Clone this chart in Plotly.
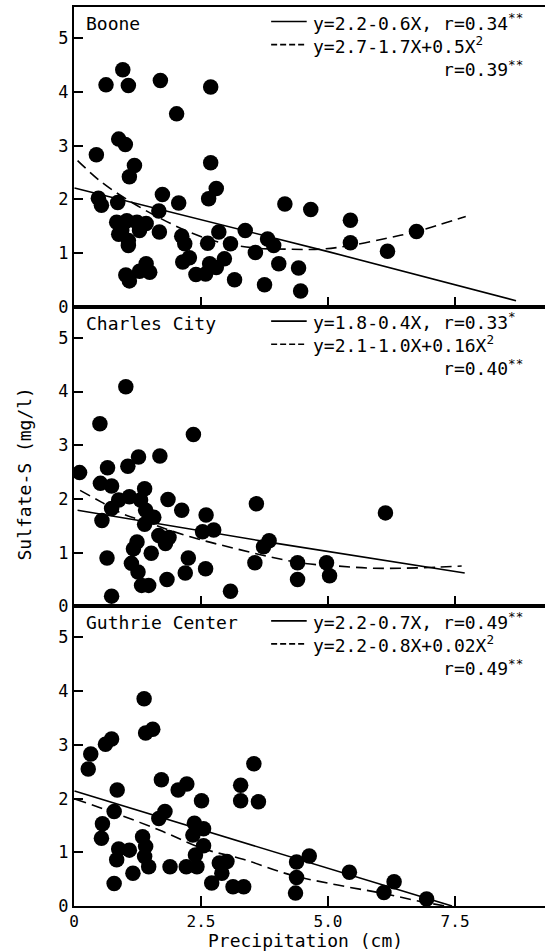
import plotly.graph_objects as go

# ---------------- data ----------------
panel_names = ["Boone", "Charles City", "Guthrie Center"]

boone_x = [0.63, 0.96, 1.07, 1.70, 2.69, 2.02, 0.44, 0.88, 1.01, 1.19, 1.09, 2.69, 2.80, 2.65,
           0.48, 0.54, 0.86, 1.74, 2.06, 1.67, 4.15, 4.66, 5.44, 5.44, 6.17, 6.74,
           0.84, 1.04, 1.24, 1.42, 0.88, 1.07, 1.29, 1.07, 1.68, 0.94,
           2.12, 2.18, 2.63, 2.85, 3.08, 3.37, 3.57, 3.81, 3.93, 4.03, 4.42, 4.46, 3.75,
           3.16, 2.96, 2.80, 2.67, 2.59, 2.40, 2.14, 2.27, 1.02, 1.09, 1.29, 1.42, 1.49]
boone_y = [4.13, 4.41, 4.12, 4.21, 4.09, 3.59, 2.83, 3.12, 3.02, 2.63, 2.42, 2.68, 2.20, 2.01,
           2.02, 1.89, 1.94, 2.09, 1.93, 1.78, 1.91, 1.81, 1.61, 1.19, 1.03, 1.40,
           1.57, 1.60, 1.57, 1.55, 1.35, 1.23, 1.42, 1.14, 1.39, 1.42,
           1.31, 1.17, 1.18, 1.39, 1.17, 1.42, 1.01, 1.26, 1.14, 0.80, 0.72, 0.29, 0.41,
           0.50, 0.89, 0.73, 0.80, 0.61, 0.60, 0.83, 0.91, 0.59, 0.48, 0.66, 0.80, 0.64]

charles_x = [1.02, 0.51, 2.35, 1.69, 1.27, 1.06, 0.66, 0.11, 0.52, 0.74, 1.39, 1.09, 0.88, 1.31,
             1.85, 2.12, 2.60, 3.59, 6.13, 0.55, 0.74, 1.41, 1.57, 1.39, 1.67, 1.87, 1.80,
             2.53, 2.75, 1.24, 1.17, 1.52, 0.65, 1.13, 1.26, 1.33, 1.47, 1.83, 2.19, 2.25,
             2.59, 3.08, 0.74, 3.56, 3.73, 3.84, 4.40, 4.40, 4.97, 5.03]
charles_y = [4.09, 3.40, 3.20, 2.80, 2.78, 2.61, 2.58, 2.49, 2.29, 2.24, 2.19, 2.04, 1.98, 1.98,
             1.99, 1.79, 1.70, 1.91, 1.74, 1.60, 1.82, 1.79, 1.66, 1.53, 1.32, 1.28, 1.17,
             1.39, 1.42, 1.20, 1.07, 0.99, 0.90, 0.80, 0.64, 0.39, 0.39, 0.50, 0.62, 0.90,
             0.70, 0.28, 0.19, 0.81, 1.11, 1.22, 0.81, 0.50, 0.81, 0.57]

guthrie_x = [1.38, 1.41, 1.55, 0.74, 0.62, 0.33, 0.28, 3.54, 1.72, 2.22, 2.05, 0.85, 2.51, 3.28,
             3.28, 3.63, 0.79, 1.79, 1.67, 0.56, 0.54, 2.37, 2.55, 2.34, 2.55, 1.35, 1.41,
             0.88, 1.09, 0.84, 1.39, 1.47, 1.16, 0.79, 1.89, 2.21, 2.42, 2.39, 2.86, 3.01,
             2.91, 2.71, 3.13, 3.34, 4.38, 4.63, 4.38, 4.36, 5.42, 6.30, 6.10, 6.94]
guthrie_y = [3.86, 3.22, 3.29, 3.11, 3.01, 2.83, 2.55, 2.65, 2.35, 2.27, 2.16, 2.16, 1.96, 2.25,
             1.96, 1.94, 1.76, 1.76, 1.63, 1.53, 1.26, 1.54, 1.44, 1.32, 1.12, 1.29, 1.11,
             1.06, 1.04, 0.86, 0.92, 0.73, 0.61, 0.42, 0.73, 0.73, 0.73, 0.95, 0.80, 0.83,
             0.61, 0.43, 0.36, 0.36, 0.82, 0.93, 0.53, 0.24, 0.63, 0.45, 0.25, 0.13]

# fitted curves
boone_lin_x = [0.01, 5.02, 8.70]
boone_lin_y = [2.21, 1.02, 0.11]
boone_quad_x = [0.07, 0.54, 1.07, 1.67, 2.27, 2.86, 3.59, 4.26, 4.85, 5.45, 6.18, 6.74, 7.71]
boone_quad_y = [2.72, 2.32, 1.98, 1.66, 1.39, 1.20, 1.09, 1.07, 1.07, 1.14, 1.28, 1.40, 1.68]

charles_lin_x = [0.07, 3.80, 7.69]
charles_lin_y = [1.79, 1.20, 0.62]
charles_quad_x = [0.12, 0.54, 0.94, 1.34, 1.87, 2.53, 3.20, 3.86, 4.52, 5.19, 5.85, 6.51, 7.18, 7.63]
charles_quad_y = [2.16, 1.94, 1.73, 1.60, 1.42, 1.23, 1.07, 0.92, 0.80, 0.75, 0.71, 0.71, 0.73, 0.75]

guthrie_lin_x = [0.01, 3.33, 7.44]
guthrie_lin_y = [2.14, 1.19, 0.0]
guthrie_quad_x = [0.03, 0.81, 1.74, 2.53, 3.33, 4.26, 5.19, 6.05, 6.84, 7.31]
guthrie_quad_y = [1.99, 1.73, 1.39, 1.07, 0.87, 0.58, 0.39, 0.24, 0.08, 0.0]

eq_lin = ["y=2.2-0.6X, r=0.34<sup>**</sup>",
          "y=1.8-0.4X, r=0.33<sup>*</sup>",
          "y=2.2-0.7X, r=0.49<sup>**</sup>"]
eq_quad = ["y=2.7-1.7X+0.5X<sup>2</sup>",
           "y=2.1-1.0X+0.16X<sup>2</sup>",
           "y=2.2-0.8X+0.02X<sup>2</sup>"]
eq_r = ["r=0.39<sup>**</sup>", "r=0.40<sup>**</sup>", "r=0.49<sup>**</sup>"]

x_ticks = [0, 2.5, 5.0, 7.5]
x_ticktext = ["0", "2.5", "5.0", "7.5"]
y_ticks = [0, 1, 2, 3, 4, 5]

# ---------------- figure ----------------
FONT = "DejaVu Sans Mono"
pts = [(boone_x, boone_y), (charles_x, charles_y), (guthrie_x, guthrie_y)]
lins = [(boone_lin_x, boone_lin_y), (charles_lin_x, charles_lin_y), (guthrie_lin_x, guthrie_lin_y)]
quads = [(boone_quad_x, boone_quad_y), (charles_quad_x, charles_quad_y), (guthrie_quad_x, guthrie_quad_y)]

fig = go.Figure()
domains = [[2/3, 1.0], [1/3, 2/3], [0.0, 1/3]]
XMAX = 9.27
YMAX = 5.58
NB = "\u00a0"

annotations = []
shapes = []
for i in range(3):
    sfx = "" if i == 0 else str(i + 1)
    xa, ya = "x" + sfx, "y" + sfx
    fig.add_trace(go.Scatter(x=lins[i][0], y=lins[i][1], mode="lines", xaxis=xa, yaxis=ya,
                             line=dict(color="black", width=1.6), showlegend=False))
    fig.add_trace(go.Scatter(x=quads[i][0], y=quads[i][1], mode="lines", xaxis=xa, yaxis=ya,
                             line=dict(color="black", width=1.6, dash="11px,6px", shape="spline"),
                             showlegend=False))
    fig.add_trace(go.Scatter(x=pts[i][0], y=pts[i][1], mode="markers", xaxis=xa, yaxis=ya,
                             marker=dict(color="black", size=15.5, line=dict(width=0)),
                             showlegend=False))
    fig.layout["xaxis" + sfx] = dict(
        domain=[0, 1], anchor=ya, range=[0, XMAX], tickvals=x_ticks, ticktext=x_ticktext,
        showticklabels=(i == 2), ticks="inside", ticklen=10, tickwidth=1.5, tickcolor="black",
        showline=True, linewidth=2, linecolor="black", mirror=True, showgrid=False, zeroline=False,
        tickfont=dict(family=FONT, size=16, color="black"),
        **({} if i == 0 else {"matches": "x"}))
    fig.layout["yaxis" + sfx] = dict(
        domain=domains[i], anchor=xa, range=[0, YMAX], tickvals=y_ticks,
        ticks="inside", ticklen=9, tickwidth=1.5, tickcolor="black",
        showline=True, linewidth=2, linecolor="black", showgrid=False, zeroline=False,
        tickfont=dict(family=FONT, size=17, color="black"))
    # panel label
    annotations.append(dict(x=0.2, y=5.27, xref=xa, yref=ya, text=panel_names[i], showarrow=False,
                            xanchor="left", yanchor="middle",
                            font=dict(family=FONT, size=18, color="black")))
    # legend samples
    shapes.append(dict(type="line", xref=xa, yref=ya, x0=3.88, x1=4.58, y0=5.31, y1=5.31,
                       line=dict(color="black", width=1.6)))
    shapes.append(dict(type="line", xref=xa, yref=ya, x0=3.88, x1=4.58, y0=4.88, y1=4.88,
                       line=dict(color="black", width=1.6, dash="6px,3px")))
    # equations block: three lines, last one right-aligned with monospace padding
    block = eq_lin[i] + "<br>" + eq_quad[i] + "<br>" + NB * 12 + eq_r[i]
    annotations.append(dict(x=4.66, y=4.88, xref=xa, yref=ya, text=block, showarrow=False,
                            xanchor="left", yanchor="middle", align="left",
                            font=dict(family=FONT, size=18, color="black")))

annotations.append(dict(x=-50/471, y=0.48, xref="paper", yref="paper", text="Sulfate-S (mg/l)",
                        textangle=-90, showarrow=False, xanchor="center", yanchor="middle",
                        font=dict(family=FONT, size=18, color="black")))
annotations.append(dict(x=(305 - 74) / 471, y=-34/899, xref="paper", yref="paper",
                        text="Precipitation (cm)", showarrow=False, xanchor="center",
                        yanchor="middle", font=dict(family=FONT, size=18, color="black")))

fig.update_layout(width=545, height=951, margin=dict(l=74, r=0, t=7, b=45),
                  paper_bgcolor="white", plot_bgcolor="white",
                  font=dict(family=FONT, size=17, color="black"),
                  annotations=annotations, shapes=shapes, showlegend=False)

fig.write_html("out.html")
